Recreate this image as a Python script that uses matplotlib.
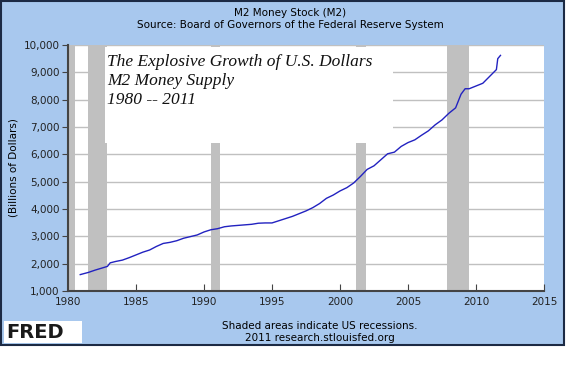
import matplotlib
matplotlib.use("Agg")
import matplotlib.pyplot as plt
from matplotlib.patches import Rectangle
from matplotlib.ticker import FuncFormatter

# M2 money stock, billions of dollars
years = [1980.9, 1981.5, 1982.0, 1982.5, 1982.9, 1983.1, 1983.5, 1984.0, 1984.5,
         1985.0, 1985.5, 1986.0, 1986.5, 1987.0, 1987.5, 1988.0, 1988.5, 1989.0,
         1989.5, 1990.0, 1990.5, 1991.0, 1991.5, 1992.0, 1992.5, 1993.0, 1993.5,
         1994.0, 1994.5, 1995.0, 1995.5, 1996.0, 1996.5, 1997.0, 1997.5, 1998.0,
         1998.5, 1999.0, 1999.5, 2000.0, 2000.5, 2001.0, 2001.5, 2002.0, 2002.5,
         2003.0, 2003.5, 2004.0, 2004.5, 2005.0, 2005.5, 2006.0, 2006.5, 2007.0,
         2007.5, 2008.0, 2008.5, 2008.9, 2009.2, 2009.5, 2010.0, 2010.5, 2011.0,
         2011.5, 2011.6, 2011.8]
m2 = [1600, 1680, 1765, 1840, 1900, 2030, 2080, 2130, 2220,
      2320, 2420, 2500, 2630, 2740, 2780, 2840, 2930, 2990,
      3050, 3160, 3240, 3280, 3350, 3380, 3400, 3420, 3440,
      3480, 3490, 3490, 3570, 3650, 3730, 3830, 3930, 4050,
      4200, 4390, 4510, 4660, 4780, 4950, 5190, 5450, 5580,
      5800, 6020, 6080, 6290, 6430, 6530, 6700, 6860, 7080,
      7260, 7500, 7700, 8200, 8400, 8400, 8500, 8600, 8850,
      9100, 9500, 9620]

# recession periods (start, end)
rec_start = [1980.0, 1981.5, 1990.55, 2001.2, 2007.9]
rec_end = [1980.5, 1982.9, 1991.2, 2001.9, 2009.5]

yticks = [1000, 2000, 3000, 4000, 5000, 6000, 7000, 8000, 9000, 10000]
xticks = [1980, 1985, 1990, 1995, 2000, 2005, 2010, 2015]

note_lines = ["The Explosive Growth of U.S. Dollars", "M2 Money Supply", "1980 -- 2011"]

fig = plt.figure(figsize=(5.76, 3.71), dpi=100)
fig.patch.set_facecolor("white")

# blue FRED panel
fig.patches.append(Rectangle((0.002, 1 - 345 / 371), 563 / 576, 344 / 371,
                             transform=fig.transFigure, facecolor="#a8c8ee",
                             edgecolor="#1c2a44", linewidth=1.5, zorder=-10))

ax = fig.add_axes([68 / 576, 1 - 291 / 371, 476 / 576, 246 / 371])
ax.set_facecolor("white")

for s, e in zip(rec_start, rec_end):
    ax.axvspan(s, e, color="#c0c0c0", lw=0, zorder=1)

ax.plot(years, m2, color="#2222c0", lw=1.0, zorder=3)

ax.set_xlim(1980, 2015)
ax.set_ylim(1000, 10000)
ax.set_xticks(xticks)
ax.set_yticks(yticks)
ax.yaxis.set_major_formatter(FuncFormatter(lambda v, p: f"{int(v):,}"))
ax.grid(axis="y", color="#c0c0c0", lw=1, zorder=0)
ax.set_axisbelow(True)

for side in ["top", "right"]:
    ax.spines[side].set_visible(False)
ax.spines["left"].set_color("#444444")
ax.spines["left"].set_linewidth(1.5)
ax.spines["bottom"].set_color("#444444")
ax.spines["bottom"].set_linewidth(1.5)
ax.tick_params(axis="x", direction="in", length=5, color="#444444",
               labelsize=7.5, pad=4, labelcolor="#222222")
ax.tick_params(axis="y", direction="out", length=4, color="#444444",
               labelsize=7.5, pad=2, labelcolor="#222222")
ax.set_ylabel("(Billions of Dollars)", fontsize=7.5, labelpad=4)

# white annotation box over the plot
ax.add_patch(Rectangle((105 / 576, 1 - 143 / 371), 288 / 576, 96 / 371,
                       transform=fig.transFigure, facecolor="white",
                       edgecolor="none", zorder=5, clip_on=False))
for i, line in enumerate(note_lines):
    ax.text(107 / 576, 1 - (66 + 19 * i) / 371, line, transform=fig.transFigure,
            fontsize=12.5, family="Liberation Serif", style="italic",
            va="baseline", zorder=6, color="#111111")

fig.text(290 / 576, 1 - 13 / 371, "M2 Money Stock (M2)", ha="center",
         va="center", fontsize=7.5)
fig.text(290 / 576, 1 - 25 / 371,
         "Source: Board of Governors of the Federal Reserve System",
         ha="center", va="center", fontsize=7.5)
fig.text(320 / 576, 1 - 326 / 371, "Shaded areas indicate US recessions.",
         ha="center", va="center", fontsize=7.5)
fig.text(320 / 576, 1 - 338 / 371, "2011 research.stlouisfed.org",
         ha="center", va="center", fontsize=7.5)

# FRED logo
fig.patches.append(Rectangle((4 / 576, 1 - 343 / 371), 78 / 576, 22 / 371,
                             transform=fig.transFigure, facecolor="white",
                             edgecolor="none", zorder=5))
fig.text(6 / 576, 1 - 332 / 371, "FRED", fontsize=14, weight="bold",
         color="#1a1a1a", va="center", zorder=6)

fig.savefig("out.png", dpi=100)
